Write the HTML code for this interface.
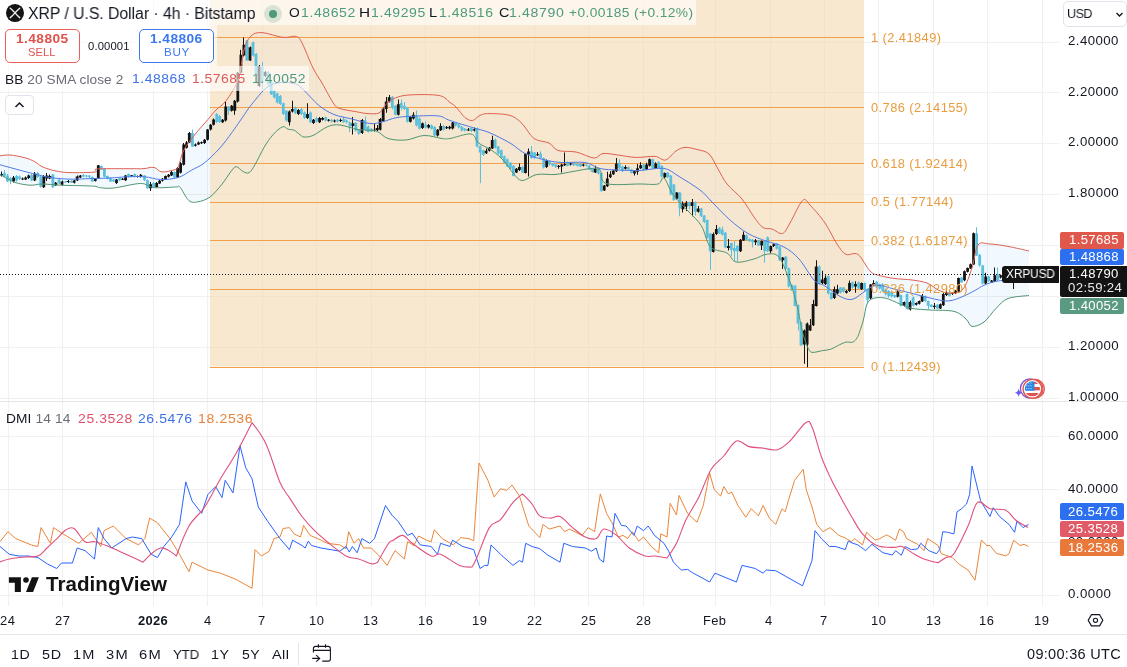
<!DOCTYPE html>
<html><head><meta charset="utf-8"><style>
html,body{margin:0;padding:0;background:#fff;}
body{width:1127px;height:667px;position:relative;overflow:hidden;font-family:"Liberation Sans",sans-serif;}
.t{position:absolute;white-space:nowrap;line-height:1.2;will-change:transform;}
</style></head><body>
<svg width="1127" height="667" viewBox="0 0 1127 667" style="position:absolute;left:0;top:0"><path d="M8.5,0 V401 M8.5,402 V606 M62.5,0 V401 M62.5,402 V606 M153.5,0 V401 M153.5,402 V606 M207.5,0 V401 M207.5,402 V606 M262.5,0 V401 M262.5,402 V606 M316.5,0 V401 M316.5,402 V606 M371.5,0 V401 M371.5,402 V606 M425.5,0 V401 M425.5,402 V606 M479.5,0 V401 M479.5,402 V606 M534.5,0 V401 M534.5,402 V606 M588.5,0 V401 M588.5,402 V606 M643.5,0 V401 M643.5,402 V606 M715.5,0 V401 M715.5,402 V606 M770.5,0 V401 M770.5,402 V606 M824.5,0 V401 M824.5,402 V606 M878.5,0 V401 M878.5,402 V606 M933.5,0 V401 M933.5,402 V606 M987.5,0 V401 M987.5,402 V606 M1042.5,0 V401 M1042.5,402 V606 M0,42.5 H1059 M0,92.5 H1059 M0,143.5 H1059 M0,194.5 H1059 M0,245.5 H1059 M0,296.5 H1059 M0,347.5 H1059 M0,398.5 H1059 M0,436.5 H1059 M0,489.5 H1059 M0,542.5 H1059 M0,595.5 H1059" stroke="#f0f0f0" stroke-width="1" fill="none"/><path d="M0.0,155.8 C1.7,155.7 5.8,154.7 10.0,155.0 C14.2,155.3 20.8,156.7 25.0,157.8 C29.2,158.9 32.2,160.3 35.0,161.8 C37.8,163.3 38.7,165.1 42.0,166.6 C45.3,168.1 50.3,169.8 55.0,170.8 C59.7,171.8 63.3,172.4 70.0,172.6 C76.7,172.8 90.5,172.6 95.0,172.0 C99.5,171.4 91.7,169.6 97.0,169.0 C102.3,168.4 119.3,168.8 127.0,168.7 C134.7,168.6 138.5,168.9 143.0,168.7 C147.5,168.5 150.8,166.8 154.0,167.4 C157.2,168.0 158.4,171.7 162.0,172.0 C165.6,172.3 172.9,170.3 175.6,169.4 C178.3,168.5 177.0,169.8 178.3,166.7 C179.7,163.5 181.0,155.8 183.7,150.5 C186.4,145.2 190.4,140.2 194.5,135.0 C198.6,129.8 204.4,123.6 208.0,119.4 C211.6,115.2 213.0,113.1 216.0,110.0 C219.0,106.9 222.3,105.8 226.0,100.8 C229.7,95.8 235.0,88.5 238.0,80.0 C241.0,71.5 241.8,57.3 244.0,50.0 C246.2,42.7 248.0,38.9 251.0,36.0 C254.0,33.1 256.7,32.4 262.0,32.6 C267.3,32.8 277.2,36.8 283.0,37.4 C288.8,38.0 293.2,35.4 296.5,36.5 C299.8,37.6 299.8,38.8 302.5,44.0 C305.2,49.2 309.8,61.5 313.0,68.0 C316.2,74.5 318.5,77.0 322.0,83.0 C325.5,89.0 331.0,99.8 334.0,104.0 C337.0,108.2 336.5,107.2 340.0,108.5 C343.5,109.8 350.5,110.7 355.0,111.5 C359.5,112.3 363.0,113.2 367.0,113.5 C371.0,113.8 376.0,114.3 379.0,113.0 C382.0,111.7 382.5,107.9 385.0,105.5 C387.5,103.1 390.0,100.2 394.0,98.5 C398.0,96.8 401.5,95.5 409.0,95.0 C416.5,94.5 432.2,94.2 439.0,95.5 C445.8,96.8 447.2,100.6 450.0,102.5 C452.8,104.4 453.5,104.5 456.0,107.0 C458.5,109.5 462.2,115.2 465.0,117.5 C467.8,119.8 470.0,120.8 472.5,120.5 C475.0,120.2 477.2,116.6 480.0,115.4 C482.8,114.2 484.0,113.6 489.0,113.6 C494.0,113.6 504.5,113.8 510.0,115.4 C515.5,117.1 518.0,119.7 522.0,123.5 C526.0,127.3 529.5,135.2 534.0,138.5 C538.5,141.8 545.0,141.0 549.0,143.0 C553.0,145.0 553.5,149.0 558.0,150.5 C562.5,152.0 570.0,150.8 576.0,152.0 C582.0,153.2 589.5,157.8 594.0,158.0 C598.5,158.2 599.0,154.0 603.0,153.5 C607.0,153.0 612.5,154.3 618.0,155.0 C623.5,155.7 629.8,157.2 636.0,157.4 C642.2,157.6 650.1,156.0 655.0,156.4 C659.9,156.8 662.0,160.9 665.5,160.0 C669.0,159.1 672.8,153.1 676.0,151.0 C679.2,148.9 681.5,147.7 685.0,147.4 C688.5,147.2 693.0,148.4 697.0,149.5 C701.0,150.6 705.5,150.8 709.0,154.0 C712.5,157.2 715.0,164.0 718.0,169.0 C721.0,174.0 723.0,179.0 727.0,184.0 C731.0,189.0 737.5,193.5 742.0,199.0 C746.5,204.5 750.5,212.2 754.0,217.0 C757.5,221.8 760.0,225.5 763.0,227.5 C766.0,229.5 768.8,228.0 772.0,229.0 C775.2,230.0 779.5,234.5 782.5,233.5 C785.5,232.5 786.7,228.5 790.0,223.0 C793.3,217.5 799.2,203.5 802.5,200.5 C805.8,197.5 806.2,201.2 810.0,205.0 C813.8,208.8 820.5,216.5 825.0,223.0 C829.5,229.5 833.5,238.8 837.0,244.0 C840.5,249.2 842.5,252.7 846.0,254.4 C849.5,256.1 854.0,251.6 858.0,254.4 C862.0,257.2 866.5,267.5 870.0,271.0 C873.5,274.5 875.0,274.2 879.0,275.4 C883.0,276.6 888.5,277.6 894.0,278.4 C899.5,279.2 906.5,279.2 912.0,280.0 C917.5,280.8 922.5,281.3 927.0,283.0 C931.5,284.7 935.0,288.7 939.0,290.4 C943.0,292.1 947.0,293.6 951.0,293.4 C955.0,293.2 959.5,293.2 963.0,289.0 C966.5,284.8 969.5,275.3 972.0,268.0 C974.5,260.7 975.0,249.0 978.0,245.0 C981.0,241.0 985.0,243.8 990.0,244.0 C995.0,244.2 1001.5,245.2 1008.0,246.4 C1014.5,247.6 1025.5,250.2 1029.0,251.0 L1029,295.5 1029.0,295.5 C1025.5,296.0 1013.5,296.4 1008.0,298.5 C1002.5,300.6 1000.0,304.5 996.0,308.4 C992.0,312.3 988.0,319.0 984.0,322.0 C980.0,325.0 975.0,326.9 972.0,326.4 C969.0,325.9 969.0,321.5 966.0,319.0 C963.0,316.5 960.0,312.9 954.0,311.4 C948.0,309.9 937.0,310.5 930.0,310.0 C923.0,309.5 917.0,309.4 912.0,308.4 C907.0,307.4 904.5,305.7 900.0,304.0 C895.5,302.3 889.5,298.9 885.0,298.0 C880.5,297.1 876.0,297.5 873.0,298.5 C870.0,299.5 868.6,300.4 867.0,304.0 C865.4,307.6 864.6,315.6 863.4,320.0 C862.2,324.4 861.0,327.7 860.0,330.6 C859.0,333.6 858.4,335.8 857.2,337.7 C856.0,339.6 854.7,341.4 852.8,342.2 C850.9,342.9 848.2,341.6 845.7,342.2 C843.2,342.8 840.2,344.5 837.7,345.7 C835.2,346.9 833.1,348.5 830.6,349.3 C828.1,350.1 825.7,350.1 822.6,350.6 C819.5,351.1 814.4,352.8 812.0,352.4 C809.6,352.0 809.2,350.1 808.0,348.0 C806.8,345.9 806.0,343.0 805.0,340.0 C804.0,337.0 803.5,336.5 802.0,330.0 C800.5,323.5 798.5,310.3 796.0,301.0 C793.5,291.7 790.0,281.5 787.0,274.0 C784.0,266.5 781.5,259.3 778.0,256.0 C774.5,252.7 770.0,253.9 766.0,254.4 C762.0,254.9 759.0,257.7 754.0,259.0 C749.0,260.3 740.5,263.0 736.0,262.0 C731.5,261.0 731.2,255.5 727.0,253.0 C722.8,250.5 714.8,251.5 710.5,247.0 C706.2,242.5 705.2,232.0 701.5,226.0 C697.8,220.0 692.8,216.2 688.0,211.0 C683.2,205.8 677.0,200.0 673.0,194.5 C669.0,189.0 666.5,179.8 664.0,178.0 C661.5,176.2 662.0,183.0 658.0,184.0 C654.0,185.0 648.7,184.1 640.0,184.0 C631.3,183.9 612.7,185.8 606.0,183.5 C599.3,181.2 602.5,172.5 600.0,170.0 C597.5,167.5 595.5,168.2 591.0,168.5 C586.5,168.8 579.0,170.5 573.0,171.5 C567.0,172.5 561.0,174.0 555.0,174.5 C549.0,175.0 542.5,173.5 537.0,174.5 C531.5,175.5 526.0,180.8 522.0,180.5 C518.0,180.2 516.0,176.2 513.0,173.0 C510.0,169.8 507.5,164.8 504.0,161.0 C500.5,157.2 496.2,153.5 492.0,150.5 C487.8,147.5 482.0,145.8 478.5,143.0 C475.0,140.2 475.8,134.8 471.0,134.0 C466.2,133.2 454.8,137.8 450.0,138.5 C445.2,139.2 446.3,139.0 442.0,138.5 C437.7,138.0 430.0,135.2 424.0,135.5 C418.0,135.8 412.0,139.5 406.0,140.0 C400.0,140.5 393.0,140.0 388.0,138.5 C383.0,137.0 381.0,132.5 376.0,131.0 C371.0,129.5 364.0,130.5 358.0,129.5 C352.0,128.5 345.0,125.5 340.0,125.0 C335.0,124.5 332.5,124.8 328.0,126.5 C323.5,128.2 317.0,133.8 313.0,135.5 C309.0,137.2 306.2,137.1 304.0,137.0 C301.8,136.9 301.7,135.8 300.0,134.7 C298.3,133.6 296.0,131.1 294.0,130.2 C292.0,129.3 289.9,129.8 288.0,129.2 C286.1,128.6 285.2,125.9 282.7,126.8 C280.2,127.7 276.1,131.2 273.0,134.7 C269.9,138.1 267.0,142.5 264.0,147.5 C261.0,152.5 257.5,160.5 255.0,164.7 C252.5,168.9 251.0,171.6 249.0,172.7 C247.0,173.8 245.1,172.5 243.0,171.5 C240.9,170.5 238.2,166.7 236.2,166.7 C234.2,166.7 233.4,168.6 231.0,171.5 C228.6,174.4 225.5,179.9 222.0,184.2 C218.5,188.4 214.0,194.1 210.0,197.0 C206.0,199.9 201.5,201.2 198.0,201.8 C194.5,202.4 192.0,203.1 189.0,200.7 C186.0,198.3 182.2,189.5 180.0,187.2 C177.8,184.9 179.9,186.9 175.6,187.0 C171.3,187.1 159.8,188.2 154.0,187.6 C148.2,187.0 147.2,183.4 140.5,183.5 C133.8,183.6 120.3,187.3 113.5,188.0 C106.7,188.7 102.4,187.9 99.5,187.6 C96.6,187.3 98.6,186.7 96.0,186.4 C93.4,186.1 90.0,186.0 84.0,185.8 C78.0,185.6 67.0,185.5 60.0,185.2 C53.0,184.9 47.0,184.0 42.0,184.0 C37.0,184.0 34.6,185.5 30.0,185.2 C25.4,184.9 19.4,184.0 14.4,182.2 C9.4,180.4 2.4,175.7 0.0,174.4 Z" fill="#2196f3" fill-opacity="0.06"/><rect x="210" y="0" width="654" height="366.6" fill="rgb(245,217,177)" fill-opacity="0.6"/><path d="M210,37.5 H864 M210,107.5 H864 M210,163.5 H864 M210,202.5 H864 M210,240.5 H864 M210,289.5 H864 M210,367.5 H864" stroke="#f2a04a" stroke-width="1" fill="none"/><path d="M3.00,173.0h2.8v3.5h-2.8z M4,170.1h1v6.9h-1z M6.10,175.5h2.8v5.9h-2.8z M7,174.0h1v8.0h-1z M9.10,178.0h2.8v2.4h-2.8z M10,177.0h1v7.3h-1z M15.20,176.0h2.8v4.4h-2.8z M16,175.0h1v6.5h-1z M18.20,176.5h2.8v2.5h-2.8z M19,175.5h1v4.5h-1z M30.30,175.0h2.8v5.4h-2.8z M31,174.0h1v7.0h-1z M36.40,173.0h2.8v4.0h-2.8z M37,172.0h1v6.0h-1z M39.40,176.5h2.8v10.2h-2.8z M40,175.5h1v12.0h-1z M51.50,174.5h2.8v12.7h-2.8z M52,174.0h1v14.0h-1z M57.60,179.4h2.8v3.9h-2.8z M59,179.0h1v5.0h-1z M63.60,181.4h2.8v1.0h-2.8z M65,181.0h1v2.0h-1z M69.60,180.9h2.8v1.5h-2.8z M71,180.0h1v3.0h-1z M81.80,175.0h2.8v1.5h-2.8z M83,174.0h1v3.5h-1z M84.80,175.5h2.8v1.0h-2.8z M86,175.0h1v2.5h-1z M87.80,175.5h2.8v1.5h-2.8z M89,175.0h1v3.0h-1z M90.80,177.0h2.8v4.4h-2.8z M92,176.5h1v5.5h-1z M99.90,166.0h2.8v3.4h-2.8z M101,165.5h1v4.5h-1z M103.00,168.7h2.8v8.1h-2.8z M104,168.0h1v9.5h-1z M106.00,176.0h2.8v2.8h-2.8z M107,175.5h1v4.0h-1z M109.10,178.0h2.8v3.5h-2.8z M110,177.5h1v4.5h-1z M112.10,179.5h2.8v2.0h-2.8z M113,179.0h1v3.0h-1z M118.20,178.0h2.8v2.2h-2.8z M119,177.5h1v3.5h-1z M127.20,174.0h2.8v2.8h-2.8z M128,173.5h1v4.0h-1z M133.40,174.0h2.8v2.8h-2.8z M134,173.5h1v4.0h-1z M143.10,175.5h2.8v4.7h-2.8z M144,175.0h1v6.0h-1z M146.10,180.2h2.8v8.1h-2.8z M147,179.5h1v9.5h-1z M152.20,182.9h2.8v4.0h-2.8z M153,182.0h1v5.5h-1z M173.10,172.0h2.8v5.5h-2.8z M174,171.5h1v6.5h-1z M191.00,133.0h2.8v13.4h-2.8z M192,129.6h1v17.4h-1z M215.30,114.0h2.8v8.0h-2.8z M216,113.0h1v10.0h-1z M218.30,116.0h2.8v6.0h-2.8z M219,115.0h1v8.0h-1z M227.40,106.6h2.8v4.1h-2.8z M228,106.0h1v9.0h-1z M245.50,40.7h2.8v19.7h-2.8z M246,40.0h1v21.0h-1z M251.60,42.3h2.8v13.2h-2.8z M253,41.5h1v15.0h-1z M254.60,53.8h2.8v20.6h-2.8z M256,53.0h1v22.0h-1z M260.70,66.2h2.8v16.5h-2.8z M262,62.0h1v28.0h-1z M266.70,72.0h2.8v12.3h-2.8z M268,71.0h1v14.0h-1z M269.80,81.9h2.8v12.3h-2.8z M271,81.0h1v14.0h-1z M272.80,91.0h2.8v6.5h-2.8z M274,90.0h1v8.5h-1z M275.80,93.4h2.8v9.1h-2.8z M277,92.5h1v11.0h-1z M278.80,95.9h2.8v8.2h-2.8z M280,95.0h1v10.0h-1z M281.90,103.3h2.8v10.7h-2.8z M283,102.5h1v12.5h-1z M284.90,110.7h2.8v9.9h-2.8z M286,110.0h1v11.5h-1z M294.00,107.4h2.8v5.8h-2.8z M295,106.5h1v7.5h-1z M300.00,109.0h2.8v5.0h-2.8z M301,108.0h1v7.0h-1z M303.10,112.4h2.8v5.6h-2.8z M304,111.5h1v7.5h-1z M309.10,112.4h2.8v9.8h-2.8z M310,111.5h1v11.5h-1z M315.20,118.0h2.8v3.4h-2.8z M316,117.0h1v5.5h-1z M324.30,117.3h2.8v3.3h-2.8z M325,116.5h1v5.0h-1z M330.30,119.8h2.8v1.6h-2.8z M331,119.0h1v3.5h-1z M336.40,119.8h2.8v1.7h-2.8z M337,119.0h1v3.5h-1z M342.40,119.0h2.8v3.3h-2.8z M343,116.4h1v6.6h-1z M345.40,120.5h2.8v1.8h-2.8z M346,119.5h1v4.0h-1z M348.50,122.3h2.8v4.2h-2.8z M349,121.5h1v10.4h-1z M354.50,122.8h2.8v8.0h-2.8z M355,122.0h1v9.5h-1z M357.50,129.7h2.8v4.3h-2.8z M358,129.0h1v6.0h-1z M363.60,120.1h2.8v9.6h-2.8z M365,116.4h1v14.1h-1z M366.60,126.5h2.8v5.4h-2.8z M368,125.5h1v7.0h-1z M369.70,128.7h2.8v2.7h-2.8z M371,128.0h1v4.0h-1z M390.90,96.7h2.8v10.7h-2.8z M392,96.0h1v13.5h-1z M393.90,105.8h2.8v9.0h-2.8z M395,105.0h1v10.5h-1z M399.90,103.1h2.8v4.8h-2.8z M401,99.4h1v11.2h-1z M403.00,105.8h2.8v3.2h-2.8z M404,102.0h1v8.0h-1z M406.00,107.9h2.8v13.8h-2.8z M407,107.0h1v15.5h-1z M415.10,115.4h2.8v10.1h-2.8z M416,110.6h1v15.9h-1z M418.10,118.5h2.8v10.2h-2.8z M419,117.5h1v12.0h-1z M424.20,124.4h2.8v3.2h-2.8z M425,121.2h1v7.3h-1z M430.20,125.5h2.8v3.2h-2.8z M431,124.5h1v5.0h-1z M433.20,127.1h2.8v8.5h-2.8z M434,126.0h1v10.5h-1z M442.30,126.0h2.8v3.7h-2.8z M443,125.0h1v5.5h-1z M454.40,122.6h2.8v3.0h-2.8z M455,122.0h1v4.5h-1z M457.50,124.4h2.8v3.0h-2.8z M458,123.5h1v5.0h-1z M460.50,126.8h2.8v3.6h-2.8z M461,126.0h1v5.5h-1z M463.50,128.6h2.8v1.8h-2.8z M464,128.0h1v3.5h-1z M469.60,128.0h2.8v3.0h-2.8z M471,127.5h1v4.5h-1z M475.60,128.0h2.8v18.6h-2.8z M477,127.4h1v20.1h-1z M478.70,146.0h2.8v6.6h-2.8z M480,145.5h1v37.7h-1z M481.70,150.2h2.8v4.8h-2.8z M483,149.5h1v6.5h-1z M493.80,139.4h2.8v8.4h-2.8z M495,138.5h1v10.0h-1z M496.80,146.6h2.8v7.2h-2.8z M498,146.0h1v8.5h-1z M499.90,150.2h2.8v7.8h-2.8z M501,149.5h1v9.5h-1z M502.90,156.2h2.8v6.6h-2.8z M504,155.5h1v8.0h-1z M505.90,159.2h2.8v7.2h-2.8z M507,158.5h1v8.5h-1z M509.00,162.8h2.8v6.0h-2.8z M510,162.0h1v7.5h-1z M512.00,165.8h2.8v10.2h-2.8z M513,165.0h1v11.5h-1z M521.10,167.0h2.8v5.4h-2.8z M522,166.0h1v7.0h-1z M530.20,151.4h2.8v6.6h-2.8z M531,146.0h1v13.0h-1z M533.20,152.5h2.8v5.5h-2.8z M534,152.0h1v7.0h-1z M539.20,153.4h2.8v4.6h-2.8z M540,151.2h1v7.3h-1z M542.30,158.0h2.8v9.6h-2.8z M543,157.5h1v11.0h-1z M548.30,161.0h2.8v3.6h-2.8z M549,160.5h1v5.0h-1z M551.40,163.4h2.8v2.4h-2.8z M552,163.0h1v3.5h-1z M554.40,164.6h2.8v2.4h-2.8z M555,164.0h1v4.0h-1z M566.50,162.2h2.8v3.6h-2.8z M567,161.5h1v5.0h-1z M572.50,162.8h2.8v2.4h-2.8z M573,162.0h1v4.0h-1z M575.60,164.0h2.8v1.8h-2.8z M577,163.5h1v3.0h-1z M578.60,163.4h2.8v3.0h-2.8z M580,163.0h1v4.0h-1z M584.70,164.6h2.8v1.2h-2.8z M586,164.0h1v2.5h-1z M587.70,165.8h2.8v3.6h-2.8z M589,165.0h1v5.0h-1z M590.70,168.8h2.8v3.0h-2.8z M592,168.0h1v4.5h-1z M596.80,168.8h2.8v4.8h-2.8z M598,168.0h1v6.5h-1z M599.80,173.0h2.8v18.0h-2.8z M601,172.5h1v19.5h-1z M618.00,162.8h2.8v5.4h-2.8z M619,159.2h1v9.8h-1z M621.00,166.4h2.8v4.8h-2.8z M622,165.8h1v6.2h-1z M627.00,167.0h2.8v2.4h-2.8z M628,166.5h1v3.5h-1z M630.10,169.4h2.8v3.6h-2.8z M631,169.0h1v4.5h-1z M642.20,164.6h2.8v5.4h-2.8z M643,164.0h1v7.0h-1z M651.30,159.2h2.8v9.0h-2.8z M652,158.5h1v10.5h-1z M657.30,162.2h2.8v6.0h-2.8z M658,161.0h1v8.0h-1z M660.40,165.8h2.8v10.8h-2.8z M661,165.0h1v12.5h-1z M666.40,172.4h2.8v4.8h-2.8z M667,172.0h1v6.0h-1z M669.40,175.4h2.8v19.2h-2.8z M670,175.0h1v20.5h-1z M672.50,184.4h2.8v15.6h-2.8z M673,184.0h1v17.0h-1z M678.50,192.6h2.8v16.0h-2.8z M679,192.0h1v24.2h-1z M687.60,202.2h2.8v3.8h-2.8z M689,201.5h1v7.7h-1z M693.70,202.2h2.8v9.6h-2.8z M695,201.5h1v14.1h-1z M699.70,208.6h2.8v7.6h-2.8z M701,208.0h1v9.0h-1z M702.70,215.6h2.8v6.4h-2.8z M704,215.0h1v8.0h-1z M705.80,220.0h2.8v17.9h-2.8z M707,219.5h1v19.0h-1z M708.80,233.4h2.8v17.8h-2.8z M710,233.0h1v37.0h-1z M717.90,227.7h2.8v5.7h-2.8z M719,227.0h1v7.0h-1z M720.90,229.6h2.8v5.1h-2.8z M722,226.4h1v9.1h-1z M723.90,232.8h2.8v14.6h-2.8z M725,232.0h1v16.0h-1z M730.00,243.0h2.8v7.0h-2.8z M731,242.5h1v13.8h-1z M733.00,248.0h2.8v3.2h-2.8z M734,241.0h1v20.4h-1z M736.00,245.9h2.8v5.3h-2.8z M737,245.0h1v16.4h-1z M745.10,235.3h2.8v4.5h-2.8z M746,234.5h1v6.0h-1z M748.20,239.1h2.8v1.9h-2.8z M749,238.5h1v3.5h-1z M751.20,239.8h2.8v2.5h-2.8z M752,239.0h1v8.4h-1z M757.20,240.4h2.8v5.1h-2.8z M758,240.0h1v6.0h-1z M763.30,241.0h2.8v10.2h-2.8z M764,240.5h1v22.2h-1z M766.30,237.2h2.8v14.0h-2.8z M767,236.5h1v15.5h-1z M775.40,243.6h2.8v5.1h-2.8z M776,243.0h1v6.5h-1z M778.40,246.8h2.8v13.4h-2.8z M779,246.0h1v15.0h-1z M784.50,256.8h2.8v12.2h-2.8z M785,256.0h1v14.0h-1z M787.50,268.2h2.8v18.4h-2.8z M788,267.5h1v20.0h-1z M790.50,284.8h2.8v5.2h-2.8z M791,284.0h1v7.0h-1z M793.60,285.7h2.8v20.2h-2.8z M795,285.0h1v21.5h-1z M796.60,305.0h2.8v18.4h-2.8z M798,304.5h1v25.9h-1z M799.60,322.5h2.8v22.9h-2.8z M801,322.0h1v24.0h-1z M817.80,266.4h2.8v17.6h-2.8z M819,265.5h1v19.5h-1z M826.90,276.0h2.8v17.6h-2.8z M828,275.5h1v19.0h-1z M829.90,292.7h2.8v6.2h-2.8z M831,292.0h1v7.5h-1z M839.00,287.5h2.8v5.2h-2.8z M840,287.0h1v6.5h-1z M842.00,287.5h2.8v4.3h-2.8z M843,287.0h1v5.5h-1z M851.10,282.2h2.8v5.3h-2.8z M852,281.5h1v7.0h-1z M857.20,282.2h2.8v6.2h-2.8z M858,281.5h1v7.5h-1z M863.20,283.1h2.8v6.9h-2.8z M864,282.5h1v8.5h-1z M866.20,289.2h2.8v10.5h-2.8z M867,288.5h1v14.1h-1z M875.30,281.8h2.8v5.4h-2.8z M876,281.0h1v7.0h-1z M878.40,284.0h2.8v4.8h-2.8z M879,283.5h1v6.0h-1z M881.40,284.5h2.8v6.9h-2.8z M882,282.9h1v9.1h-1z M884.40,289.3h2.8v5.3h-2.8z M885,288.5h1v7.0h-1z M887.40,290.9h2.8v5.3h-2.8z M888,290.0h1v7.8h-1z M890.50,292.0h2.8v4.2h-2.8z M891,291.5h1v6.3h-1z M893.50,295.1h2.8v2.2h-2.8z M894,294.5h1v3.5h-1z M899.50,295.1h2.8v10.7h-2.8z M900,294.5h1v12.0h-1z M905.60,294.0h2.8v15.0h-2.8z M907,293.5h1v16.0h-1z M911.70,297.3h2.8v8.5h-2.8z M913,296.5h1v10.0h-1z M923.80,296.2h2.8v4.8h-2.8z M925,295.5h1v6.5h-1z M926.80,301.0h2.8v4.8h-2.8z M928,300.5h1v8.5h-1z M929.80,304.7h2.8v2.2h-2.8z M931,304.0h1v3.5h-1z M935.90,304.7h2.8v3.8h-2.8z M937,304.0h1v5.0h-1z M948.00,292.5h2.8v3.2h-2.8z M949,292.0h1v4.5h-1z M960.10,277.6h2.8v4.8h-2.8z M961,277.0h1v6.0h-1z M975.20,233.2h2.8v22.2h-2.8z M976,227.2h1v28.8h-1z M978.30,254.8h2.8v10.8h-2.8z M979,254.0h1v12.5h-1z M981.30,265.6h2.8v18.0h-2.8z M982,265.0h1v19.5h-1z M987.40,276.4h2.8v4.6h-2.8z M988,275.5h1v6.5h-1z M996.40,274.6h2.8v5.4h-2.8z M997,267.4h1v13.6h-1z M1005.50,275.0h2.8v2.0h-2.8z M1006,274.0h1v4.0h-1z" fill="#5bc0de"/><path d="M0.10,174.0h2.8v1.5h-2.8z M1,171.6h1v4.9h-1z M12.20,177.5h2.8v3.9h-2.8z M13,176.0h1v6.5h-1z M21.30,178.4h2.8v1.0h-2.8z M22,177.5h1v2.5h-1z M24.30,177.4h2.8v2.0h-2.8z M25,176.5h1v3.5h-1z M27.30,175.5h2.8v2.5h-2.8z M28,174.5h1v4.5h-1z M33.40,173.5h2.8v6.9h-2.8z M34,172.0h1v9.0h-1z M42.40,176.0h2.8v11.2h-2.8z M43,175.0h1v13.0h-1z M45.50,175.5h2.8v2.9h-2.8z M46,173.0h1v8.0h-1z M48.50,176.0h2.8v2.4h-2.8z M49,174.5h1v4.5h-1z M54.50,182.8h2.8v2.5h-2.8z M55,182.0h1v4.0h-1z M60.60,181.4h2.8v3.4h-2.8z M62,180.5h1v5.0h-1z M66.60,180.9h2.8v1.0h-2.8z M68,180.0h1v3.0h-1z M72.70,180.4h2.8v2.4h-2.8z M74,180.0h1v3.5h-1z M75.70,176.5h2.8v3.9h-2.8z M77,175.5h1v5.5h-1z M78.70,175.5h2.8v2.0h-2.8z M80,175.0h1v3.0h-1z M93.90,178.4h2.8v2.5h-2.8z M95,178.0h1v3.5h-1z M96.90,165.2h2.8v13.2h-2.8z M98,165.0h1v14.0h-1z M115.10,179.5h2.8v3.4h-2.8z M116,179.0h1v5.0h-1z M121.30,178.7h2.8v1.0h-2.8z M122,178.0h1v2.0h-1z M124.20,175.5h2.8v4.7h-2.8z M125,175.0h1v6.0h-1z M130.30,175.3h2.8v1.0h-2.8z M131,175.0h1v2.0h-1z M136.40,175.9h2.8v1.0h-2.8z M137,175.5h1v2.0h-1z M139.50,174.8h2.8v2.0h-2.8z M140,174.0h1v3.5h-1z M149.20,184.2h2.8v4.1h-2.8z M150,182.0h1v9.0h-1z M155.30,182.9h2.8v4.0h-2.8z M156,182.0h1v5.5h-1z M158.20,180.8h2.8v2.7h-2.8z M159,180.0h1v4.0h-1z M160.90,178.8h2.8v2.0h-2.8z M162,178.0h1v3.5h-1z M164.10,176.1h2.8v3.4h-2.8z M165,175.5h1v4.5h-1z M167.20,174.8h2.8v2.0h-2.8z M168,174.0h1v3.5h-1z M170.10,172.0h2.8v3.5h-2.8z M171,171.0h1v5.0h-1z M176.20,168.0h2.8v9.5h-2.8z M177,167.0h1v11.0h-1z M179.20,163.3h2.8v9.5h-2.8z M180,162.0h1v11.5h-1z M182.30,144.4h2.8v20.3h-2.8z M183,143.0h1v22.5h-1z M185.20,142.4h2.8v5.4h-2.8z M186,141.0h1v7.5h-1z M187.90,133.0h2.8v9.4h-2.8z M189,132.0h1v11.0h-1z M194.00,144.4h2.8v1.4h-2.8z M195,143.5h1v3.0h-1z M197.10,142.4h2.8v2.0h-2.8z M198,141.5h1v3.5h-1z M200.10,142.2h2.8v1.0h-2.8z M201,141.5h1v2.5h-1z M203.20,139.7h2.8v3.4h-2.8z M204,139.0h1v5.0h-1z M206.20,129.6h2.8v10.1h-2.8z M207,129.0h1v11.5h-1z M209.30,124.8h2.8v4.8h-2.8z M210,124.0h1v6.5h-1z M212.20,119.4h2.8v5.4h-2.8z M213,118.5h1v7.0h-1z M221.30,119.8h2.8v2.4h-2.8z M222,119.0h1v4.0h-1z M224.30,106.6h2.8v14.0h-2.8z M225,101.6h1v19.9h-1z M230.40,105.8h2.8v4.9h-2.8z M231,105.0h1v6.5h-1z M233.40,100.8h2.8v9.9h-2.8z M234,100.0h1v14.8h-1z M236.40,72.8h2.8v28.8h-2.8z M237,72.0h1v30.5h-1z M239.50,54.7h2.8v18.1h-2.8z M240,49.7h1v23.8h-1z M242.50,44.8h2.8v10.7h-2.8z M243,37.4h1v19.1h-1z M248.60,47.3h2.8v13.1h-2.8z M250,46.5h1v14.5h-1z M257.60,66.2h2.8v19.8h-2.8z M259,65.0h1v22.0h-1z M263.70,72.0h2.8v4.0h-2.8z M265,71.0h1v6.0h-1z M287.90,111.5h2.8v10.7h-2.8z M289,110.5h1v15.0h-1z M290.90,109.0h2.8v2.5h-2.8z M292,100.8h1v11.7h-1z M297.00,109.9h2.8v4.1h-2.8z M298,109.0h1v6.0h-1z M306.10,114.0h2.8v4.0h-2.8z M307,103.3h1v15.7h-1z M312.10,119.8h2.8v3.2h-2.8z M313,119.0h1v5.0h-1z M318.20,118.0h2.8v4.2h-2.8z M319,117.0h1v6.0h-1z M321.20,118.0h2.8v1.8h-2.8z M322,117.0h1v3.5h-1z M327.30,119.7h2.8v1.0h-2.8z M328,119.0h1v2.5h-1z M333.30,120.5h2.8v1.0h-2.8z M334,119.5h1v3.0h-1z M339.40,119.9h2.8v1.0h-2.8z M340,118.5h1v3.5h-1z M351.50,123.3h2.8v2.7h-2.8z M352,117.0h1v17.5h-1z M360.60,120.1h2.8v12.8h-2.8z M362,119.0h1v15.0h-1z M372.70,129.7h2.8v1.1h-2.8z M374,123.3h1v8.2h-1z M375.70,128.1h2.8v2.2h-2.8z M377,124.9h1v6.1h-1z M378.70,119.0h2.8v10.7h-2.8z M380,118.0h1v12.5h-1z M381.80,108.4h2.8v12.8h-2.8z M383,107.5h1v14.5h-1z M384.80,101.5h2.8v7.5h-2.8z M386,97.0h1v15.7h-1z M387.80,97.2h2.8v4.3h-2.8z M389,95.1h1v7.4h-1z M396.90,104.2h2.8v10.6h-2.8z M398,99.4h1v16.1h-1z M409.00,117.0h2.8v4.7h-2.8z M410,116.0h1v6.5h-1z M412.00,114.8h2.8v3.7h-2.8z M413,112.2h1v7.3h-1z M421.10,123.3h2.8v4.8h-2.8z M422,122.5h1v6.5h-1z M427.20,125.0h2.8v2.6h-2.8z M428,124.0h1v4.5h-1z M436.30,129.7h2.8v5.9h-2.8z M437,129.0h1v7.5h-1z M439.30,126.0h2.8v4.3h-2.8z M440,123.3h1v7.7h-1z M445.40,127.0h2.8v1.2h-2.8z M446,126.0h1v3.0h-1z M448.40,126.8h2.8v1.8h-2.8z M449,125.8h1v3.7h-1z M451.40,122.6h2.8v6.0h-2.8z M452,122.0h1v7.5h-1z M466.60,129.6h2.8v1.0h-2.8z M468,128.0h1v3.0h-1z M472.60,129.2h2.8v1.2h-2.8z M474,127.4h1v4.2h-1z M484.70,150.8h2.8v2.4h-2.8z M486,148.4h1v5.6h-1z M487.80,147.8h2.8v3.0h-2.8z M489,147.0h1v4.5h-1z M490.80,140.0h2.8v8.4h-2.8z M492,135.8h1v13.2h-1z M515.00,168.8h2.8v3.6h-2.8z M516,168.0h1v5.0h-1z M518.00,167.0h2.8v3.0h-2.8z M519,163.4h1v7.6h-1z M524.10,153.8h2.8v19.2h-2.8z M525,153.0h1v20.5h-1z M527.10,151.4h2.8v3.0h-2.8z M528,148.4h1v28.2h-1z M536.20,154.2h2.8v1.0h-2.8z M537,151.9h1v4.1h-1z M545.30,160.4h2.8v6.6h-2.8z M546,159.5h1v8.5h-1z M557.40,165.8h2.8v1.2h-2.8z M558,165.0h1v3.8h-1z M560.40,164.6h2.8v1.8h-2.8z M561,163.8h1v8.6h-1z M563.50,164.0h2.8v1.2h-2.8z M564,152.6h1v13.4h-1z M569.50,163.4h2.8v1.2h-2.8z M570,162.5h1v3.0h-1z M581.60,164.6h2.8v1.2h-2.8z M583,163.8h1v2.7h-1z M593.70,168.8h2.8v3.6h-2.8z M595,165.8h1v7.2h-1z M602.80,185.6h2.8v4.8h-2.8z M604,185.0h1v6.0h-1z M605.90,178.4h2.8v7.8h-2.8z M607,171.8h1v15.2h-1z M608.90,174.2h2.8v3.0h-2.8z M610,171.2h1v6.8h-1z M611.90,170.6h2.8v3.6h-2.8z M613,170.0h1v5.0h-1z M614.90,163.4h2.8v7.8h-2.8z M616,158.0h1v14.0h-1z M624.00,167.0h2.8v1.8h-2.8z M625,165.2h1v4.3h-1z M633.10,171.2h2.8v2.4h-2.8z M634,170.5h1v4.9h-1z M636.10,168.2h2.8v3.6h-2.8z M637,164.0h1v10.8h-1z M639.20,165.2h2.8v3.0h-2.8z M640,162.2h1v6.8h-1z M645.20,164.6h2.8v4.8h-2.8z M646,162.8h1v7.2h-1z M648.20,159.2h2.8v6.6h-2.8z M649,158.5h1v8.0h-1z M654.30,163.4h2.8v4.8h-2.8z M655,162.2h1v6.8h-1z M663.40,173.0h2.8v4.2h-2.8z M664,172.5h1v5.5h-1z M675.50,192.6h2.8v6.2h-2.8z M676,192.0h1v7.5h-1z M681.50,203.5h2.8v5.7h-2.8z M682,201.6h1v10.8h-1z M684.60,202.8h2.8v3.9h-2.8z M686,200.9h1v10.2h-1z M690.60,202.2h2.8v3.8h-2.8z M692,199.0h1v17.2h-1z M696.70,208.6h2.8v3.2h-2.8z M698,206.0h1v6.5h-1z M711.80,234.0h2.8v17.9h-2.8z M713,232.4h1v20.1h-1z M714.90,229.0h2.8v5.0h-2.8z M716,225.1h1v9.9h-1z M727.00,246.1h2.8v1.9h-2.8z M728,239.1h1v11.5h-1z M739.10,239.8h2.8v11.4h-2.8z M740,239.0h1v13.0h-1z M742.10,234.7h2.8v5.7h-2.8z M743,231.5h1v9.5h-1z M754.20,240.4h2.8v1.9h-2.8z M755,239.1h1v5.8h-1z M760.30,241.0h2.8v4.5h-2.8z M761,240.5h1v9.5h-1z M769.40,246.1h2.8v5.1h-2.8z M770,245.5h1v7.7h-1z M772.40,244.2h2.8v1.9h-2.8z M773,243.5h1v3.5h-1z M781.50,257.6h2.8v2.6h-2.8z M782,257.0h1v12.0h-1z M802.70,330.4h2.8v14.1h-2.8z M804,329.5h1v34.3h-1z M805.70,323.4h2.8v21.1h-2.8z M807,322.5h1v44.8h-1z M808.70,325.2h2.8v5.2h-2.8z M810,318.9h1v12.1h-1z M811.70,304.1h2.8v21.1h-2.8z M813,299.7h1v26.3h-1z M814.80,266.4h2.8v39.5h-2.8z M816,260.3h1v46.2h-1z M820.80,279.6h2.8v3.5h-2.8z M822,270.8h1v13.2h-1z M823.90,277.8h2.8v6.2h-2.8z M825,275.2h1v9.8h-1z M832.90,289.2h2.8v8.8h-2.8z M834,286.6h1v12.4h-1z M836.00,289.2h2.8v4.4h-2.8z M837,284.8h1v9.7h-1z M845.00,291.0h2.8v1.7h-2.8z M846,290.0h1v3.5h-1z M848.10,283.1h2.8v7.9h-2.8z M849,280.4h1v11.6h-1z M854.10,284.0h2.8v2.6h-2.8z M855,281.3h1v11.4h-1z M860.20,283.1h2.8v6.1h-2.8z M861,282.5h1v7.5h-1z M869.30,284.5h2.8v13.8h-2.8z M870,284.0h1v15.0h-1z M872.30,282.9h2.8v2.1h-2.8z M873,280.2h1v5.8h-1z M896.50,291.4h2.8v5.3h-2.8z M897,290.4h1v7.1h-1z M902.60,302.0h2.8v3.8h-2.8z M904,301.5h1v5.0h-1z M908.60,302.0h2.8v7.5h-2.8z M910,300.5h1v10.1h-1z M914.70,303.1h2.8v1.6h-2.8z M916,302.5h1v3.0h-1z M917.70,301.0h2.8v2.7h-2.8z M919,300.5h1v4.0h-1z M920.70,295.7h2.8v5.8h-2.8z M922,294.1h1v7.9h-1z M932.90,305.8h2.8v1.1h-2.8z M934,303.1h1v5.9h-1z M938.90,304.2h2.8v4.3h-2.8z M940,303.5h1v5.5h-1z M941.90,294.0h2.8v11.3h-2.8z M943,292.0h1v14.0h-1z M945.00,292.5h2.8v2.6h-2.8z M946,289.3h1v6.7h-1z M951.00,292.5h2.8v1.6h-2.8z M952,292.0h1v3.0h-1z M954.10,290.4h2.8v2.6h-2.8z M955,290.0h1v4.0h-1z M957.10,278.1h2.8v13.9h-2.8z M958,277.5h1v15.0h-1z M963.10,271.2h2.8v9.0h-2.8z M964,270.5h1v10.8h-1z M966.20,268.0h2.8v3.7h-2.8z M967,267.5h1v5.0h-1z M969.20,264.3h2.8v4.2h-2.8z M970,263.5h1v5.5h-1z M972.20,233.2h2.8v31.2h-2.8z M973,232.5h1v32.5h-1z M984.30,276.4h2.8v7.2h-2.8z M985,272.8h1v11.7h-1z M990.40,280.6h2.8v1.8h-2.8z M991,280.0h1v3.0h-1z M993.40,275.2h2.8v6.0h-2.8z M994,267.4h1v14.6h-1z M999.50,275.2h2.8v2.4h-2.8z M1000,274.5h1v4.0h-1z M1002.50,274.6h2.8v2.4h-2.8z M1003,274.0h1v4.0h-1z M1008.50,276.0h2.8v2.0h-2.8z M1009,275.0h1v4.0h-1z M1012.10,279.0h2.8v3.0h-2.8z M1013,275.0h1v14.0h-1z" fill="#131313"/><path d="M0.0,155.8 C1.7,155.7 5.8,154.7 10.0,155.0 C14.2,155.3 20.8,156.7 25.0,157.8 C29.2,158.9 32.2,160.3 35.0,161.8 C37.8,163.3 38.7,165.1 42.0,166.6 C45.3,168.1 50.3,169.8 55.0,170.8 C59.7,171.8 63.3,172.4 70.0,172.6 C76.7,172.8 90.5,172.6 95.0,172.0 C99.5,171.4 91.7,169.6 97.0,169.0 C102.3,168.4 119.3,168.8 127.0,168.7 C134.7,168.6 138.5,168.9 143.0,168.7 C147.5,168.5 150.8,166.8 154.0,167.4 C157.2,168.0 158.4,171.7 162.0,172.0 C165.6,172.3 172.9,170.3 175.6,169.4 C178.3,168.5 177.0,169.8 178.3,166.7 C179.7,163.5 181.0,155.8 183.7,150.5 C186.4,145.2 190.4,140.2 194.5,135.0 C198.6,129.8 204.4,123.6 208.0,119.4 C211.6,115.2 213.0,113.1 216.0,110.0 C219.0,106.9 222.3,105.8 226.0,100.8 C229.7,95.8 235.0,88.5 238.0,80.0 C241.0,71.5 241.8,57.3 244.0,50.0 C246.2,42.7 248.0,38.9 251.0,36.0 C254.0,33.1 256.7,32.4 262.0,32.6 C267.3,32.8 277.2,36.8 283.0,37.4 C288.8,38.0 293.2,35.4 296.5,36.5 C299.8,37.6 299.8,38.8 302.5,44.0 C305.2,49.2 309.8,61.5 313.0,68.0 C316.2,74.5 318.5,77.0 322.0,83.0 C325.5,89.0 331.0,99.8 334.0,104.0 C337.0,108.2 336.5,107.2 340.0,108.5 C343.5,109.8 350.5,110.7 355.0,111.5 C359.5,112.3 363.0,113.2 367.0,113.5 C371.0,113.8 376.0,114.3 379.0,113.0 C382.0,111.7 382.5,107.9 385.0,105.5 C387.5,103.1 390.0,100.2 394.0,98.5 C398.0,96.8 401.5,95.5 409.0,95.0 C416.5,94.5 432.2,94.2 439.0,95.5 C445.8,96.8 447.2,100.6 450.0,102.5 C452.8,104.4 453.5,104.5 456.0,107.0 C458.5,109.5 462.2,115.2 465.0,117.5 C467.8,119.8 470.0,120.8 472.5,120.5 C475.0,120.2 477.2,116.6 480.0,115.4 C482.8,114.2 484.0,113.6 489.0,113.6 C494.0,113.6 504.5,113.8 510.0,115.4 C515.5,117.1 518.0,119.7 522.0,123.5 C526.0,127.3 529.5,135.2 534.0,138.5 C538.5,141.8 545.0,141.0 549.0,143.0 C553.0,145.0 553.5,149.0 558.0,150.5 C562.5,152.0 570.0,150.8 576.0,152.0 C582.0,153.2 589.5,157.8 594.0,158.0 C598.5,158.2 599.0,154.0 603.0,153.5 C607.0,153.0 612.5,154.3 618.0,155.0 C623.5,155.7 629.8,157.2 636.0,157.4 C642.2,157.6 650.1,156.0 655.0,156.4 C659.9,156.8 662.0,160.9 665.5,160.0 C669.0,159.1 672.8,153.1 676.0,151.0 C679.2,148.9 681.5,147.7 685.0,147.4 C688.5,147.2 693.0,148.4 697.0,149.5 C701.0,150.6 705.5,150.8 709.0,154.0 C712.5,157.2 715.0,164.0 718.0,169.0 C721.0,174.0 723.0,179.0 727.0,184.0 C731.0,189.0 737.5,193.5 742.0,199.0 C746.5,204.5 750.5,212.2 754.0,217.0 C757.5,221.8 760.0,225.5 763.0,227.5 C766.0,229.5 768.8,228.0 772.0,229.0 C775.2,230.0 779.5,234.5 782.5,233.5 C785.5,232.5 786.7,228.5 790.0,223.0 C793.3,217.5 799.2,203.5 802.5,200.5 C805.8,197.5 806.2,201.2 810.0,205.0 C813.8,208.8 820.5,216.5 825.0,223.0 C829.5,229.5 833.5,238.8 837.0,244.0 C840.5,249.2 842.5,252.7 846.0,254.4 C849.5,256.1 854.0,251.6 858.0,254.4 C862.0,257.2 866.5,267.5 870.0,271.0 C873.5,274.5 875.0,274.2 879.0,275.4 C883.0,276.6 888.5,277.6 894.0,278.4 C899.5,279.2 906.5,279.2 912.0,280.0 C917.5,280.8 922.5,281.3 927.0,283.0 C931.5,284.7 935.0,288.7 939.0,290.4 C943.0,292.1 947.0,293.6 951.0,293.4 C955.0,293.2 959.5,293.2 963.0,289.0 C966.5,284.8 969.5,275.3 972.0,268.0 C974.5,260.7 975.0,249.0 978.0,245.0 C981.0,241.0 985.0,243.8 990.0,244.0 C995.0,244.2 1001.5,245.2 1008.0,246.4 C1014.5,247.6 1025.5,250.2 1029.0,251.0" stroke="#e06050" stroke-width="1" fill="none"/><path d="M0.0,164.8 C6.0,166.4 27.0,172.2 36.0,174.4 C45.0,176.6 48.0,177.2 54.0,178.0 C60.0,178.8 66.0,179.1 72.0,179.2 C78.0,179.3 83.7,178.8 90.0,178.6 C96.3,178.4 103.8,178.3 110.0,178.0 C116.2,177.7 121.2,177.0 127.0,176.8 C132.8,176.6 138.9,176.4 144.5,176.8 C150.1,177.2 155.1,179.4 160.7,179.5 C166.3,179.6 173.1,179.1 178.3,177.5 C183.5,175.9 187.5,172.4 191.8,170.0 C196.1,167.6 199.5,166.7 204.0,163.2 C208.5,159.7 214.2,154.2 219.0,149.0 C223.8,143.8 227.8,138.2 232.5,131.7 C237.2,125.2 244.6,114.2 247.5,110.0 C250.4,105.8 247.1,110.0 250.0,106.5 C252.9,103.0 260.5,92.9 265.0,89.0 C269.5,85.1 272.5,84.0 277.0,83.0 C281.5,82.0 288.0,82.2 292.0,83.0 C296.0,83.8 296.5,83.8 301.0,87.5 C305.5,91.2 313.5,101.0 319.0,105.5 C324.5,110.0 328.5,112.2 334.0,114.5 C339.5,116.8 346.0,117.5 352.0,119.0 C358.0,120.5 365.0,123.0 370.0,123.5 C375.0,124.0 377.5,123.0 382.0,122.0 C386.5,121.0 391.0,118.5 397.0,117.5 C403.0,116.5 411.0,116.2 418.0,116.0 C425.0,115.8 433.7,115.2 439.0,116.0 C444.3,116.8 444.2,118.5 450.0,120.5 C455.8,122.5 467.5,126.0 474.0,128.0 C480.5,130.0 483.0,130.0 489.0,132.5 C495.0,135.0 504.0,139.5 510.0,143.0 C516.0,146.5 519.5,150.8 525.0,153.5 C530.5,156.2 537.0,158.0 543.0,159.5 C549.0,161.0 554.0,162.0 561.0,162.5 C568.0,163.0 578.5,161.5 585.0,162.5 C591.5,163.5 594.5,167.2 600.0,168.5 C605.5,169.8 611.3,169.7 618.0,170.0 C624.7,170.3 632.3,170.8 640.0,170.5 C647.7,170.2 657.5,167.4 664.0,168.4 C670.5,169.4 673.0,172.9 679.0,176.5 C685.0,180.1 694.5,185.8 700.0,190.0 C705.5,194.2 707.0,197.0 712.0,202.0 C717.0,207.0 724.0,214.8 730.0,220.0 C736.0,225.2 742.0,230.0 748.0,233.5 C754.0,237.0 760.0,238.8 766.0,241.0 C772.0,243.2 778.5,244.0 784.0,247.0 C789.5,250.0 794.0,253.5 799.0,259.0 C804.0,264.5 809.7,275.5 814.0,280.0 C818.3,284.5 820.7,283.3 825.0,286.0 C829.3,288.7 835.5,294.2 840.0,296.4 C844.5,298.6 848.0,300.1 852.0,299.4 C856.0,298.7 860.0,294.4 864.0,292.0 C868.0,289.6 871.0,285.8 876.0,285.3 C881.0,284.8 888.0,287.6 894.0,289.0 C900.0,290.4 906.0,291.9 912.0,293.4 C918.0,294.9 924.0,296.7 930.0,298.0 C936.0,299.3 942.5,301.3 948.0,301.0 C953.5,300.7 958.5,298.2 963.0,296.4 C967.5,294.6 971.5,292.2 975.0,290.4 C978.5,288.5 980.5,286.8 984.0,285.3 C987.5,283.8 991.0,282.4 996.0,281.4 C1001.0,280.4 1008.5,279.8 1014.0,279.3 C1019.5,278.8 1026.5,278.6 1029.0,278.5" stroke="#4f7ae6" stroke-width="1" fill="none"/><path d="M0.0,174.4 C2.4,175.7 9.4,180.4 14.4,182.2 C19.4,184.0 25.4,184.9 30.0,185.2 C34.6,185.5 37.0,184.0 42.0,184.0 C47.0,184.0 53.0,184.9 60.0,185.2 C67.0,185.5 78.0,185.6 84.0,185.8 C90.0,186.0 93.4,186.1 96.0,186.4 C98.6,186.7 96.6,187.3 99.5,187.6 C102.4,187.9 106.7,188.7 113.5,188.0 C120.3,187.3 133.8,183.6 140.5,183.5 C147.2,183.4 148.2,187.0 154.0,187.6 C159.8,188.2 171.3,187.1 175.6,187.0 C179.9,186.9 177.8,184.9 180.0,187.2 C182.2,189.5 186.0,198.3 189.0,200.7 C192.0,203.1 194.5,202.4 198.0,201.8 C201.5,201.2 206.0,199.9 210.0,197.0 C214.0,194.1 218.5,188.4 222.0,184.2 C225.5,179.9 228.6,174.4 231.0,171.5 C233.4,168.6 234.2,166.7 236.2,166.7 C238.2,166.7 240.9,170.5 243.0,171.5 C245.1,172.5 247.0,173.8 249.0,172.7 C251.0,171.6 252.5,168.9 255.0,164.7 C257.5,160.5 261.0,152.5 264.0,147.5 C267.0,142.5 269.9,138.1 273.0,134.7 C276.1,131.2 280.2,127.7 282.7,126.8 C285.2,125.9 286.1,128.6 288.0,129.2 C289.9,129.8 292.0,129.3 294.0,130.2 C296.0,131.1 298.3,133.6 300.0,134.7 C301.7,135.8 301.8,136.9 304.0,137.0 C306.2,137.1 309.0,137.2 313.0,135.5 C317.0,133.8 323.5,128.2 328.0,126.5 C332.5,124.8 335.0,124.5 340.0,125.0 C345.0,125.5 352.0,128.5 358.0,129.5 C364.0,130.5 371.0,129.5 376.0,131.0 C381.0,132.5 383.0,137.0 388.0,138.5 C393.0,140.0 400.0,140.5 406.0,140.0 C412.0,139.5 418.0,135.8 424.0,135.5 C430.0,135.2 437.7,138.0 442.0,138.5 C446.3,139.0 445.2,139.2 450.0,138.5 C454.8,137.8 466.2,133.2 471.0,134.0 C475.8,134.8 475.0,140.2 478.5,143.0 C482.0,145.8 487.8,147.5 492.0,150.5 C496.2,153.5 500.5,157.2 504.0,161.0 C507.5,164.8 510.0,169.8 513.0,173.0 C516.0,176.2 518.0,180.2 522.0,180.5 C526.0,180.8 531.5,175.5 537.0,174.5 C542.5,173.5 549.0,175.0 555.0,174.5 C561.0,174.0 567.0,172.5 573.0,171.5 C579.0,170.5 586.5,168.8 591.0,168.5 C595.5,168.2 597.5,167.5 600.0,170.0 C602.5,172.5 599.3,181.2 606.0,183.5 C612.7,185.8 631.3,183.9 640.0,184.0 C648.7,184.1 654.0,185.0 658.0,184.0 C662.0,183.0 661.5,176.2 664.0,178.0 C666.5,179.8 669.0,189.0 673.0,194.5 C677.0,200.0 683.2,205.8 688.0,211.0 C692.8,216.2 697.8,220.0 701.5,226.0 C705.2,232.0 706.2,242.5 710.5,247.0 C714.8,251.5 722.8,250.5 727.0,253.0 C731.2,255.5 731.5,261.0 736.0,262.0 C740.5,263.0 749.0,260.3 754.0,259.0 C759.0,257.7 762.0,254.9 766.0,254.4 C770.0,253.9 774.5,252.7 778.0,256.0 C781.5,259.3 784.0,266.5 787.0,274.0 C790.0,281.5 793.5,291.7 796.0,301.0 C798.5,310.3 800.5,323.5 802.0,330.0 C803.5,336.5 804.0,337.0 805.0,340.0 C806.0,343.0 806.8,345.9 808.0,348.0 C809.2,350.1 809.6,352.0 812.0,352.4 C814.4,352.8 819.5,351.1 822.6,350.6 C825.7,350.1 828.1,350.1 830.6,349.3 C833.1,348.5 835.2,346.9 837.7,345.7 C840.2,344.5 843.2,342.8 845.7,342.2 C848.2,341.6 850.9,342.9 852.8,342.2 C854.7,341.4 856.0,339.6 857.2,337.7 C858.4,335.8 859.0,333.6 860.0,330.6 C861.0,327.7 862.2,324.4 863.4,320.0 C864.6,315.6 865.4,307.6 867.0,304.0 C868.6,300.4 870.0,299.5 873.0,298.5 C876.0,297.5 880.5,297.1 885.0,298.0 C889.5,298.9 895.5,302.3 900.0,304.0 C904.5,305.7 907.0,307.4 912.0,308.4 C917.0,309.4 923.0,309.5 930.0,310.0 C937.0,310.5 948.0,309.9 954.0,311.4 C960.0,312.9 963.0,316.5 966.0,319.0 C969.0,321.5 969.0,325.9 972.0,326.4 C975.0,326.9 980.0,325.0 984.0,322.0 C988.0,319.0 992.0,312.3 996.0,308.4 C1000.0,304.5 1002.5,300.6 1008.0,298.5 C1013.5,296.4 1025.5,296.0 1029.0,295.5" stroke="#4f9570" stroke-width="1" fill="none"/><path d="M0,274.5 H1059" stroke="#131722" stroke-width="1" stroke-dasharray="1,2" fill="none"/><path d="M0,401.5 H1127" stroke="#e6e6e6" stroke-width="1"/><path d="M0,634.5 H1127" stroke="#e6e6e6" stroke-width="1"/><path d="M0.0,541.7 L7.9,531.7 L15.7,538.6 L31.5,545.0 L37.8,546.5 L41.0,527.6 L50.4,543.3 L53.5,527.6 L63.0,533.9 L78.7,543.3 L91.3,532.3 L100.8,546.5 L104.0,530.7 L113.4,526.0 L126.0,538.6 L138.6,544.9 L144.9,538.6 L149.6,518.1 L157.5,522.8 L170.0,538.6 L179.5,554.3 L189.0,571.7 L192.0,562.2 L207.9,570.0 L220.5,573.2 L236.2,579.5 L252.0,588.3 L255.0,549.6 L261.4,556.0 L269.3,551.2 L274.0,538.6 L280.0,537.0 L283.0,528.5 L289.4,527.6 L294.2,533.9 L300.5,537.0 L303.6,525.4 L310.0,535.4 L317.8,538.6 L327.2,543.3 L339.8,544.9 L346.0,548.7 L348.7,531.7 L354.0,543.3 L358.7,538.6 L363.5,548.0 L371.3,548.0 L380.8,557.5 L387.0,565.4 L395.0,550.6 L404.4,559.0 L407.6,541.7 L413.9,545.5 L418.6,536.0 L426.5,540.2 L431.2,541.7 L434.3,529.8 L442.2,538.6 L453.2,544.9 L461.0,537.6 L469.0,538.6 L473.7,540.8 L479.0,463.0 L487.9,480.3 L494.2,497.0 L500.5,488.8 L506.8,490.4 L512.0,485.0 L519.4,496.0 L528.8,526.0 L539.8,537.6 L543.0,524.4 L549.3,529.1 L560.0,526.0 L564.7,531.7 L569.4,529.1 L582.0,535.4 L588.3,527.6 L594.6,531.7 L600.3,493.9 L606.6,513.4 L612.0,522.8 L618.3,537.0 L623.0,535.4 L627.7,538.6 L632.4,531.7 L638.7,541.1 L643.5,537.0 L651.3,546.5 L658.6,552.8 L660.8,533.9 L667.0,537.0 L670.2,503.3 L676.5,515.0 L679.0,495.4 L687.6,513.4 L697.0,522.2 L703.3,505.5 L709.6,473.0 L714.3,489.8 L720.6,496.0 L723.8,486.6 L728.5,493.9 L731.7,492.0 L738.0,505.5 L745.8,517.2 L751.2,508.7 L758.4,515.9 L763.1,505.5 L769.4,518.1 L775.7,524.4 L782.0,508.7 L785.2,511.8 L788.3,500.8 L794.6,480.3 L803.2,469.3 L806.3,489.8 L812.0,507.0 L816.7,524.4 L823.0,531.7 L830.0,527.6 L838.9,535.4 L845.2,538.0 L851.5,541.7 L854.6,538.6 L862.5,544.9 L866.6,532.3 L875.1,540.2 L879.8,538.6 L886.8,534.8 L895.6,540.2 L899.4,529.1 L903.5,531.7 L906.6,538.6 L917.6,544.3 L924.0,550.6 L927.7,538.6 L938.1,545.5 L941.3,553.7 L952.3,557.5 L958.6,563.8 L968.0,570.0 L975.0,580.2 L981.3,540.2 L986.9,545.5 L990.0,545.5 L996.4,553.4 L1005.8,555.9 L1009.0,553.7 L1013.7,540.2 L1020.0,545.5 L1024.1,544.3 L1028.5,546.5" stroke="#ec8538" stroke-width="1" fill="none"/><path d="M0.0,546.5 L9.4,554.3 L19.0,556.0 L28.3,556.0 L37.8,557.5 L47.2,563.8 L56.7,568.5 L61.4,563.0 L72.4,563.0 L77.2,548.0 L85.0,550.6 L94.5,559.0 L98.3,527.6 L104.0,538.6 L111.8,548.0 L126.0,538.6 L132.3,537.0 L141.7,538.6 L151.2,554.3 L157.5,557.5 L163.8,546.5 L171.7,537.0 L179.5,524.4 L185.8,481.9 L192.0,500.8 L201.6,513.4 L207.9,494.5 L215.7,486.6 L222.0,497.6 L225.2,480.3 L233.0,492.9 L240.0,445.7 L245.7,467.7 L252.0,478.7 L258.3,507.0 L267.7,521.3 L280.0,538.6 L289.4,549.6 L292.6,540.2 L302.0,545.5 L305.2,548.0 L308.3,541.1 L311.5,545.5 L321.0,548.0 L339.8,551.2 L346.0,546.5 L349.3,552.1 L352.4,546.5 L357.2,552.8 L361.9,538.6 L369.8,543.3 L374.5,538.6 L385.5,505.5 L391.8,515.0 L398.0,521.3 L407.6,535.4 L412.3,533.2 L420.2,544.9 L431.2,546.5 L437.5,554.3 L440.6,543.3 L450.0,546.5 L452.6,540.2 L462.7,546.5 L473.7,549.6 L480.0,568.5 L484.7,565.4 L487.9,565.4 L491.0,544.9 L500.5,554.3 L513.0,565.4 L519.4,560.6 L522.5,562.2 L525.7,543.3 L532.0,546.5 L539.8,548.7 L547.7,555.0 L560.0,562.2 L563.8,543.3 L572.6,546.5 L585.2,548.0 L591.5,551.2 L596.2,548.0 L599.4,559.0 L603.5,562.2 L606.6,536.0 L612.0,537.0 L615.0,513.4 L621.4,525.4 L626.1,526.0 L634.0,535.4 L637.2,526.0 L643.5,530.7 L648.2,526.0 L654.5,535.4 L664.0,543.3 L668.7,551.2 L673.4,562.2 L681.3,570.0 L687.6,569.4 L692.3,572.6 L709.6,582.0 L715.0,573.2 L736.4,582.0 L742.0,565.4 L755.3,568.5 L763.1,573.2 L766.3,570.0 L775.7,570.7 L802.5,585.8 L812.0,560.6 L815.0,530.7 L821.4,538.6 L829.4,546.5 L835.7,546.5 L845.2,549.6 L848.3,541.1 L853.0,543.3 L857.8,544.9 L865.7,550.6 L872.0,544.3 L883.0,552.8 L892.4,555.0 L895.6,550.6 L901.3,555.3 L905.0,546.5 L911.3,549.6 L917.6,549.0 L920.8,543.3 L928.7,550.6 L936.5,553.7 L939.7,549.6 L942.8,531.7 L947.6,532.3 L953.9,533.9 L957.0,511.8 L961.7,508.7 L966.5,504.0 L969.6,494.5 L972.0,466.0 L980.6,500.8 L990.0,516.5 L993.2,507.7 L999.5,516.5 L1009.0,524.4 L1014.6,532.3 L1016.9,521.3 L1023.1,527.6 L1028.5,524.4" stroke="#2962ff" stroke-width="1" fill="none"/><path d="M0.0,562.0 C1.6,561.5 5.2,559.8 9.4,559.0 C13.6,558.2 20.2,557.5 25.0,557.0 C29.8,556.5 34.3,557.5 38.0,556.0 C41.7,554.5 43.8,550.9 47.0,548.0 C50.2,545.1 53.8,541.6 57.0,538.6 C60.2,535.6 63.2,531.5 66.0,529.8 C68.8,528.1 70.8,526.5 74.0,528.5 C77.2,530.5 81.6,539.5 85.0,541.7 C88.4,543.9 90.8,541.0 94.5,541.7 C98.2,542.4 101.8,543.7 107.0,545.8 C112.2,547.9 120.0,551.6 126.0,554.3 C132.0,557.0 143.0,562.2 143.0,562.2 C143.0,562.2 155.0,549.0 160.6,548.0 C166.2,547.0 176.4,556.0 176.4,556.0 C176.4,556.0 184.3,534.2 189.0,526.0 C193.7,517.8 199.4,514.9 204.7,507.0 C209.9,499.1 215.3,487.6 220.5,478.7 C225.7,469.8 230.8,462.8 236.0,453.5 C241.2,444.2 252.0,422.7 252.0,422.7 C252.0,422.7 261.3,434.0 266.0,444.0 C270.7,454.0 276.1,473.6 280.0,482.5 C283.9,491.4 285.7,491.9 289.4,497.6 C293.1,503.3 297.8,511.0 302.0,516.5 C306.2,522.0 310.4,526.5 314.6,530.7 C318.8,534.9 322.0,537.5 327.2,541.7 C332.4,545.9 340.8,553.0 346.0,555.9 C351.2,558.8 354.5,557.7 358.7,559.0 C362.9,560.3 368.1,563.3 371.3,563.8 C374.5,564.3 377.6,562.2 377.6,562.2 C377.6,562.2 386.1,547.0 388.7,543.3 C391.3,539.6 391.0,541.5 393.4,540.2 C395.8,538.9 399.6,534.9 402.8,535.4 C406.0,535.9 407.6,539.9 412.3,543.3 C417.0,546.7 426.5,554.1 431.2,555.9 C435.9,557.7 435.9,552.7 440.6,554.3 C445.3,555.9 454.3,563.3 459.5,565.4 C464.7,567.5 472.0,567.0 472.0,567.0 C472.0,567.0 474.0,564.1 476.9,557.5 C479.8,550.9 485.5,533.9 489.4,527.6 C493.3,521.3 496.6,523.9 500.5,519.7 C504.4,515.5 509.3,506.7 513.0,502.4 C516.7,498.1 522.5,493.9 522.5,493.9 C522.5,493.9 529.1,500.3 532.0,504.0 C534.9,507.7 536.6,513.5 539.8,515.9 C542.9,518.2 547.5,518.0 550.9,518.1 C554.3,518.2 556.4,514.9 560.0,516.5 C563.6,518.1 568.4,524.2 572.6,527.6 C576.8,531.0 581.3,535.2 585.2,537.0 C589.1,538.8 593.1,539.9 596.2,538.6 C599.3,537.3 600.6,529.5 604.0,529.0 C607.4,528.5 612.5,532.2 616.7,535.4 C620.9,538.6 624.6,544.6 629.3,548.0 C634.0,551.4 640.8,554.7 645.0,556.0 C649.2,557.3 650.8,555.7 654.5,556.0 C658.2,556.3 667.0,558.0 667.0,558.0 C667.0,558.0 673.3,549.7 676.5,543.3 C679.7,536.9 682.3,527.3 686.0,519.7 C689.7,512.1 694.4,506.0 698.6,497.6 C702.8,489.2 707.0,476.2 711.2,469.3 C715.4,462.4 719.6,460.7 723.8,456.0 C728.0,451.3 732.2,442.6 736.4,441.0 C740.6,439.4 744.8,445.5 749.0,446.6 C753.2,447.8 756.9,447.4 761.6,447.9 C766.3,448.4 772.6,450.9 777.3,449.8 C782.0,448.7 785.3,445.5 790.0,441.0 C794.7,436.5 802.0,425.1 805.7,422.7 C809.4,420.3 809.4,421.1 812.0,426.8 C814.6,432.5 818.2,448.1 821.4,456.7 C824.5,465.3 827.8,472.1 830.9,478.7 C834.0,485.2 837.6,491.5 840.0,496.0 C842.4,500.5 843.3,502.1 845.2,505.5 C847.1,508.9 848.6,511.8 851.5,516.5 C854.4,521.2 858.3,529.1 862.5,533.9 C866.7,538.7 871.5,543.2 876.7,545.5 C882.0,547.8 889.8,547.2 894.0,547.4 C898.2,547.6 898.5,545.4 901.9,546.5 C905.3,547.6 910.8,552.2 914.5,554.3 C918.2,556.4 920.1,557.6 924.0,559.0 C927.9,560.4 938.1,562.8 938.1,562.8 C938.1,562.8 943.4,559.0 946.0,557.5 C948.6,556.0 950.2,559.0 953.9,553.7 C957.6,548.5 964.1,534.5 968.0,526.0 C971.9,517.5 973.8,505.3 977.5,502.4 C981.2,499.5 985.3,507.4 990.0,508.7 C994.7,510.0 1001.6,508.4 1005.8,510.2 C1010.0,512.0 1011.6,516.8 1015.3,519.7 C1019.0,522.6 1025.8,526.3 1027.9,527.6" stroke="#e0507a" stroke-width="1.1" fill="none" stroke-linejoin="round"/></svg>
<div style="position:absolute;left:0;top:0;width:696px;height:25px;background:rgba(255,255,255,0.6)"></div><div style="position:absolute;left:0;top:25px;width:217px;height:41px;background:rgba(255,255,255,0.6)"></div><div style="position:absolute;left:0;top:66px;width:309px;height:25px;background:rgba(255,255,255,0.6)"></div><div style="position:absolute;left:6.1px;top:4px;width:17.8px;height:17.8px;border-radius:50%;background:#131313"></div><svg style="position:absolute;left:6px;top:4px" width="18" height="18"><path d="M4.3,4.2 Q7.2,6.7 9,8.9 Q10.8,6.7 13.7,4.2 M4.3,13.6 Q7.2,11.1 9,8.9 Q10.8,11.1 13.7,13.6" fill="none" stroke="#e8e8e8" stroke-width="1.5" stroke-linecap="round"/></svg><div class="t" style="left:28.20px;top:4.02px;font-size:16px;color:#131722;font-weight:400;letter-spacing:-0.068px;transform:scaleX(0.9907);transform-origin:0 0;">XRP / U.S. Dollar · 4h · Bitstamp</div><div style="position:absolute;left:264px;top:4.5px;width:18px;height:18px;border-radius:50%;background:rgba(80,150,120,0.2)"></div><div style="position:absolute;left:269px;top:9.5px;width:8px;height:8px;border-radius:50%;background:#4f9a7c"></div><div class="t" style="left:289.36px;top:5.19px;font-size:13px;color:#131722;font-weight:400;letter-spacing:0.000px;transform:scaleX(1.0618);transform-origin:0 0;">O</div><div class="t" style="left:300.92px;top:5.19px;font-size:13px;color:#4f9a7c;font-weight:400;letter-spacing:0.556px;transform:scaleX(1.0793);transform-origin:0 0;">1.48652</div><div class="t" style="left:358.70px;top:5.19px;font-size:13px;color:#131722;font-weight:400;letter-spacing:0.000px;transform:scaleX(1.1806);transform-origin:0 0;">H</div><div class="t" style="left:370.72px;top:5.19px;font-size:13px;color:#4f9a7c;font-weight:400;letter-spacing:0.556px;transform:scaleX(1.0791);transform-origin:0 0;">1.49295</div><div class="t" style="left:429.26px;top:5.19px;font-size:13px;color:#131722;font-weight:400;letter-spacing:0.000px;transform:scaleX(1.1316);transform-origin:0 0;">L</div><div class="t" style="left:439.43px;top:5.19px;font-size:13px;color:#4f9a7c;font-weight:400;letter-spacing:0.527px;transform:scaleX(1.0747);transform-origin:0 0;">1.48516</div><div class="t" style="left:498.82px;top:5.19px;font-size:13px;color:#131722;font-weight:400;letter-spacing:0.000px;transform:scaleX(1.1098);transform-origin:0 0;">C</div><div class="t" style="left:509.32px;top:5.19px;font-size:13px;color:#4f9a7c;font-weight:400;letter-spacing:0.585px;transform:scaleX(1.0835);transform-origin:0 0;">1.48790</div><div class="t" style="left:568.87px;top:5.19px;font-size:13px;color:#4f9a7c;font-weight:400;letter-spacing:0.372px;transform:scaleX(1.0573);transform-origin:0 0;">+0.00185 (+0.12%)</div><div style="position:absolute;left:5px;top:29px;width:73px;height:32px;border:1px solid #e8605a;border-radius:5px;background:#fff"></div><div class="t" style="left:16.16px;top:30.68px;font-size:13px;color:#e0524d;font-weight:700;letter-spacing:0.403px;transform:scaleX(1.0556);transform-origin:0 0;">1.48805</div><div class="t" style="left:27.90px;top:46.20px;font-size:11px;color:#e0524d;font-weight:400;letter-spacing:0.083px;transform:scaleX(1.0096);transform-origin:0 0;">SELL</div><div class="t" style="left:87.59px;top:40.49px;font-size:11px;color:#131722;font-weight:400;letter-spacing:0.139px;transform:scaleX(1.0219);transform-origin:0 0;">0.00001</div><div style="position:absolute;left:139px;top:29px;width:73px;height:32px;border:1px solid #3b78f0;border-radius:5px;background:#fff"></div><div class="t" style="left:150.15px;top:30.68px;font-size:13px;color:#3b78f0;font-weight:700;letter-spacing:0.410px;transform:scaleX(1.0568);transform-origin:0 0;">1.48806</div><div class="t" style="left:164.05px;top:46.20px;font-size:11px;color:#3b78f0;font-weight:400;letter-spacing:0.591px;transform:scaleX(1.0581);transform-origin:0 0;">BUY</div><div class="t" style="left:5.14px;top:71.56px;font-size:13.5px;color:#131722;font-weight:400;letter-spacing:0.082px;transform:scaleX(1.0116);transform-origin:0 0;">BB <span style="color:#6a6d78">20 SMA close 2</span></div><div class="t" style="left:131.63px;top:71.48px;font-size:13px;color:#3d72e8;font-weight:400;letter-spacing:0.506px;transform:scaleX(1.0714);transform-origin:0 0;">1.48868</div><div class="t" style="left:191.53px;top:71.48px;font-size:13px;color:#e05a58;font-weight:400;letter-spacing:0.484px;transform:scaleX(1.0681);transform-origin:0 0;">1.57685</div><div class="t" style="left:251.73px;top:71.48px;font-size:13px;color:#4f9a7c;font-weight:400;letter-spacing:0.491px;transform:scaleX(1.0694);transform-origin:0 0;">1.40052</div><div style="position:absolute;left:5px;top:95px;width:27px;height:18px;border:1px solid #e0e3eb;border-radius:4px;background:#fff"></div><svg style="position:absolute;left:5px;top:95px" width="29" height="20"><path d="M10.5,12 L14.5,8 L18.5,12" stroke="#131722" stroke-width="1.5" fill="none"/></svg><div style="position:absolute;left:1063px;top:1px;width:62px;height:24px;border:1px solid #e0e3eb;border-radius:5px;background:#fff"></div><div class="t" style="left:1066.74px;top:5.59px;font-size:13px;color:#131722;font-weight:400;letter-spacing:-0.493px;transform:scaleX(0.9633);transform-origin:0 0;">USD</div><svg style="position:absolute;left:1114px;top:10px" width="10" height="8"><path d="M2.5,3 L5.5,6 L8.5,3" stroke="#131722" stroke-width="1.4" fill="none"/></svg><div class="t" style="left:1068.17px;top:33.61px;font-size:12.5px;color:#131722;font-weight:400;letter-spacing:0.402px;transform:scaleX(1.0578);transform-origin:0 0;">2.40000</div><div class="t" style="left:1068.17px;top:84.51px;font-size:12.5px;color:#131722;font-weight:400;letter-spacing:0.402px;transform:scaleX(1.0578);transform-origin:0 0;">2.20000</div><div class="t" style="left:1068.17px;top:135.41px;font-size:12.5px;color:#131722;font-weight:400;letter-spacing:0.402px;transform:scaleX(1.0578);transform-origin:0 0;">2.00000</div><div class="t" style="left:1067.84px;top:186.31px;font-size:12.5px;color:#131722;font-weight:400;letter-spacing:0.424px;transform:scaleX(1.0616);transform-origin:0 0;">1.80000</div><div class="t" style="left:1067.84px;top:339.01px;font-size:12.5px;color:#131722;font-weight:400;letter-spacing:0.424px;transform:scaleX(1.0616);transform-origin:0 0;">1.20000</div><div class="t" style="left:1067.84px;top:389.91px;font-size:12.5px;color:#131722;font-weight:400;letter-spacing:0.424px;transform:scaleX(1.0616);transform-origin:0 0;">1.00000</div><div class="t" style="left:871.04px;top:30.94px;font-size:12px;color:#e99c3e;font-weight:400;letter-spacing:0.397px;transform:scaleX(1.0711);transform-origin:0 0;">1 (2.41849)</div><div class="t" style="left:871.46px;top:100.64px;font-size:12px;color:#e99c3e;font-weight:400;letter-spacing:0.394px;transform:scaleX(1.0707);transform-origin:0 0;">0.786 (2.14155)</div><div class="t" style="left:871.46px;top:156.74px;font-size:12px;color:#e99c3e;font-weight:400;letter-spacing:0.394px;transform:scaleX(1.0707);transform-origin:0 0;">0.618 (1.92414)</div><div class="t" style="left:871.46px;top:195.14px;font-size:12px;color:#e99c3e;font-weight:400;letter-spacing:0.418px;transform:scaleX(1.0769);transform-origin:0 0;">0.5 (1.77144)</div><div class="t" style="left:871.46px;top:233.94px;font-size:12px;color:#e99c3e;font-weight:400;letter-spacing:0.394px;transform:scaleX(1.0707);transform-origin:0 0;">0.382 (1.61874)</div><div class="t" style="left:871.46px;top:282.14px;font-size:12px;color:#e99c3e;font-weight:400;letter-spacing:0.394px;transform:scaleX(1.0707);transform-origin:0 0;">0.236 (1.42980)</div><div class="t" style="left:871.47px;top:360.14px;font-size:12px;color:#e99c3e;font-weight:400;letter-spacing:0.379px;transform:scaleX(1.0673);transform-origin:0 0;">0 (1.12439)</div><div style="position:absolute;left:1060px;top:232.3px;width:63.7px;height:16.3px;background:#e0574c;border-radius:2px"></div><div class="t" style="left:1068.56px;top:233.36px;font-size:12.5px;color:#fff;font-weight:400;letter-spacing:0.334px;transform:scaleX(1.0481);transform-origin:0 0;">1.57685</div><div style="position:absolute;left:1060px;top:249.2px;width:63.7px;height:16px;background:#2c70f0;border-radius:2px"></div><div class="t" style="left:1068.56px;top:250.11px;font-size:12.5px;color:#fff;font-weight:400;letter-spacing:0.334px;transform:scaleX(1.0481);transform-origin:0 0;">1.48868</div><div style="position:absolute;left:1060px;top:266.2px;width:67px;height:30.6px;background:#131313;border-radius:2px 0 0 2px"></div><div class="t" style="left:1068.56px;top:266.81px;font-size:12.5px;color:#fff;font-weight:400;letter-spacing:0.326px;transform:scaleX(1.0468);transform-origin:0 0;">1.48790</div><div class="t" style="left:1067.97px;top:280.81px;font-size:12.5px;color:#e8e8e8;font-weight:400;letter-spacing:0.352px;transform:scaleX(1.0544);transform-origin:0 0;">02:59:24</div><div style="position:absolute;left:1060px;top:297.5px;width:63.7px;height:16.2px;background:#5a9a80;border-radius:2px"></div><div class="t" style="left:1068.56px;top:298.51px;font-size:12.5px;color:#fff;font-weight:400;letter-spacing:0.341px;transform:scaleX(1.0493);transform-origin:0 0;">1.40052</div><div style="position:absolute;left:1002px;top:266.2px;width:57px;height:16.5px;background:#131313;border-radius:3px 0 0 3px"></div><div class="t" style="left:1006.20px;top:267.24px;font-size:12px;color:#fff;font-weight:400;letter-spacing:-0.111px;transform:scaleX(0.9888);transform-origin:0 0;">XRPUSD</div><svg style="position:absolute;left:1005px;top:370.7px" width="50" height="30"><circle cx="25" cy="17.5" r="9.6" fill="none" stroke="#7b4fd0" stroke-width="1.3"/><circle cx="30" cy="17.8" r="9.4" fill="#fff" stroke="#e0524d" stroke-width="1.2"/><circle cx="28.6" cy="17.8" r="9.4" fill="#fff" stroke="#e0524d" stroke-width="1.2"/><circle cx="27.4" cy="17.8" r="9.4" fill="#fff" stroke="#e0524d" stroke-width="1.4"/><clipPath id="fc"><circle cx="27.4" cy="17.8" r="7.6"/></clipPath><g clip-path="url(#fc)"><rect x="18" y="9" width="20" height="18" fill="#fff"/><rect x="29" y="10.5" width="8" height="2.4" fill="#e0524d"/><rect x="29" y="16" width="8" height="3.4" fill="#e0524d"/><rect x="18" y="22" width="20" height="3.4" fill="#e0524d"/><rect x="18.5" y="9.5" width="11" height="10.3" fill="#2f86e0"/><path d="M21,12 h6 M21,14.8 h6 M21,17.6 h6" stroke="#cfe3fa" stroke-width="0.8" stroke-dasharray="1,0.8"/></g><path d="M13.7,17.8 Q14.3,21.2 17.5,21.8 Q14.3,22.4 13.7,25.8 Q13.1,22.4 9.9,21.8 Q13.1,21.2 13.7,17.8 Z" fill="#6a5cf5"/></svg><div class="t" style="left:5.68px;top:410.56px;font-size:13.5px;color:#131722;font-weight:400;letter-spacing:0.123px;transform:scaleX(1.0164);transform-origin:0 0;">DMI <span style="color:#6a6d78">14 14</span></div><div class="t" style="left:78.05px;top:411.19px;font-size:13px;color:#e0506a;font-weight:400;letter-spacing:0.549px;transform:scaleX(1.0773);transform-origin:0 0;">25.3528</div><div class="t" style="left:137.95px;top:411.19px;font-size:13px;color:#3d72e8;font-weight:400;letter-spacing:0.542px;transform:scaleX(1.0763);transform-origin:0 0;">26.5476</div><div class="t" style="left:197.92px;top:411.19px;font-size:13px;color:#e8833a;font-weight:400;letter-spacing:0.577px;transform:scaleX(1.0824);transform-origin:0 0;">18.2536</div><div class="t" style="left:1067.77px;top:428.81px;font-size:12.5px;color:#131722;font-weight:400;letter-spacing:0.402px;transform:scaleX(1.0578);transform-origin:0 0;">60.0000</div><div class="t" style="left:1068.08px;top:481.61px;font-size:12.5px;color:#131722;font-weight:400;letter-spacing:0.379px;transform:scaleX(1.0541);transform-origin:0 0;">40.0000</div><div class="t" style="left:1067.77px;top:534.51px;font-size:12.5px;color:#131722;font-weight:400;letter-spacing:0.402px;transform:scaleX(1.0578);transform-origin:0 0;">20.0000</div><div class="t" style="left:1067.87px;top:587.11px;font-size:12.5px;color:#131722;font-weight:400;letter-spacing:0.433px;transform:scaleX(1.0617);transform-origin:0 0;">0.0000</div><div style="position:absolute;left:1060px;top:502.8px;width:63.7px;height:17.2px;background:#2c70f0;border-radius:2px"></div><div class="t" style="left:1068.17px;top:504.91px;font-size:12.5px;color:#fff;font-weight:400;letter-spacing:0.364px;transform:scaleX(1.0523);transform-origin:0 0;">26.5476</div><div style="position:absolute;left:1060px;top:520.5px;width:63.7px;height:16.5px;background:#e05a68;border-radius:2px"></div><div class="t" style="left:1068.17px;top:522.26px;font-size:12.5px;color:#fff;font-weight:400;letter-spacing:0.364px;transform:scaleX(1.0523);transform-origin:0 0;">25.3528</div><div style="position:absolute;left:1060px;top:539px;width:63.7px;height:17px;background:#e8793a;border-radius:2px"></div><div class="t" style="left:1067.85px;top:541.01px;font-size:12.5px;color:#fff;font-weight:400;letter-spacing:0.387px;transform:scaleX(1.0561);transform-origin:0 0;">18.2536</div><svg style="position:absolute;left:8px;top:576px" width="34" height="18"><path d="M0.9,1.2 H12.9 V16 H6.8 V6.8 H0.9 Z" fill="#131313"/><circle cx="18" cy="4" r="2.8" fill="#131313"/><path d="M23.9,1.2 H30.9 L25.1,16 H18 Z" fill="#131313"/></svg><div class="t" style="left:45.70px;top:571.97px;font-size:20.5px;color:#131313;font-weight:700;letter-spacing:0.035px;transform:scaleX(1.0029);transform-origin:0 0;">TradingView</div><div class="t" style="left:0.42px;top:613.91px;font-size:12.5px;color:#131722;font-weight:400;letter-spacing:0.440px;transform:scaleX(1.0350);transform-origin:0 0;">24</div><div class="t" style="left:54.58px;top:613.91px;font-size:12.5px;color:#131722;font-weight:400;letter-spacing:0.429px;transform:scaleX(1.0350);transform-origin:0 0;">27</div><div class="t" style="left:137.74px;top:613.91px;font-size:12.5px;color:#131722;font-weight:700;letter-spacing:0.304px;transform:scaleX(1.0350);transform-origin:0 0;">2026</div><div class="t" style="left:203.92px;top:613.91px;font-size:12.5px;color:#131722;font-weight:400;letter-spacing:0.000px;transform:scaleX(1.0350);transform-origin:0 0;">4</div><div class="t" style="left:258.33px;top:613.91px;font-size:12.5px;color:#131722;font-weight:400;letter-spacing:0.000px;transform:scaleX(1.0350);transform-origin:0 0;">7</div><div class="t" style="left:308.63px;top:613.91px;font-size:12.5px;color:#131722;font-weight:400;letter-spacing:0.426px;transform:scaleX(1.0350);transform-origin:0 0;">10</div><div class="t" style="left:363.18px;top:613.91px;font-size:12.5px;color:#131722;font-weight:400;letter-spacing:0.423px;transform:scaleX(1.0350);transform-origin:0 0;">13</div><div class="t" style="left:417.58px;top:613.91px;font-size:12.5px;color:#131722;font-weight:400;letter-spacing:0.423px;transform:scaleX(1.0350);transform-origin:0 0;">16</div><div class="t" style="left:472.08px;top:613.91px;font-size:12.5px;color:#131722;font-weight:400;letter-spacing:0.423px;transform:scaleX(1.0350);transform-origin:0 0;">19</div><div class="t" style="left:526.68px;top:613.91px;font-size:12.5px;color:#131722;font-weight:400;letter-spacing:0.429px;transform:scaleX(1.0350);transform-origin:0 0;">22</div><div class="t" style="left:581.13px;top:613.91px;font-size:12.5px;color:#131722;font-weight:400;letter-spacing:0.433px;transform:scaleX(1.0350);transform-origin:0 0;">25</div><div class="t" style="left:635.53px;top:613.91px;font-size:12.5px;color:#131722;font-weight:400;letter-spacing:0.433px;transform:scaleX(1.0350);transform-origin:0 0;">28</div><div class="t" style="left:703.26px;top:613.91px;font-size:12.5px;color:#131722;font-weight:400;letter-spacing:0.338px;transform:scaleX(1.0350);transform-origin:0 0;">Feb</div><div class="t" style="left:765.32px;top:613.91px;font-size:12.5px;color:#131722;font-weight:400;letter-spacing:0.000px;transform:scaleX(1.0350);transform-origin:0 0;">4</div><div class="t" style="left:819.63px;top:613.91px;font-size:12.5px;color:#131722;font-weight:400;letter-spacing:0.000px;transform:scaleX(1.0350);transform-origin:0 0;">7</div><div class="t" style="left:870.63px;top:613.91px;font-size:12.5px;color:#131722;font-weight:400;letter-spacing:0.426px;transform:scaleX(1.0350);transform-origin:0 0;">10</div><div class="t" style="left:925.58px;top:613.91px;font-size:12.5px;color:#131722;font-weight:400;letter-spacing:0.423px;transform:scaleX(1.0350);transform-origin:0 0;">13</div><div class="t" style="left:979.38px;top:613.91px;font-size:12.5px;color:#131722;font-weight:400;letter-spacing:0.423px;transform:scaleX(1.0350);transform-origin:0 0;">16</div><div class="t" style="left:1034.18px;top:613.91px;font-size:12.5px;color:#131722;font-weight:400;letter-spacing:0.423px;transform:scaleX(1.0350);transform-origin:0 0;">19</div><svg style="position:absolute;left:1086px;top:612px" width="18" height="18"><path d="M5.4,2.7 H13.6 L16.8,8.3 L13.6,13.9 H5.4 L2.2,8.3 Z" fill="none" stroke="#131722" stroke-width="1.2" stroke-linejoin="round"/><circle cx="9.5" cy="8.3" r="2.1" fill="none" stroke="#131722" stroke-width="1.1"/></svg><div class="t" style="left:11.37px;top:646.51px;font-size:13.7px;color:#131722;font-weight:400;letter-spacing:0.531px;transform:scaleX(1.0348);transform-origin:0 0;">1D</div><div class="t" style="left:41.97px;top:646.51px;font-size:13.7px;color:#131722;font-weight:400;letter-spacing:0.717px;transform:scaleX(1.0463);transform-origin:0 0;">5D</div><div class="t" style="left:73.14px;top:646.51px;font-size:13.7px;color:#131722;font-weight:400;letter-spacing:0.989px;transform:scaleX(1.0621);transform-origin:0 0;">1M</div><div class="t" style="left:105.96px;top:646.51px;font-size:13.7px;color:#131722;font-weight:400;letter-spacing:1.166px;transform:scaleX(1.0718);transform-origin:0 0;">3M</div><div class="t" style="left:138.55px;top:646.51px;font-size:13.7px;color:#131722;font-weight:400;letter-spacing:1.252px;transform:scaleX(1.0785);transform-origin:0 0;">6M</div><div class="t" style="left:172.71px;top:646.51px;font-size:13.7px;color:#131722;font-weight:400;letter-spacing:-0.307px;transform:scaleX(0.9773);transform-origin:0 0;">YTD</div><div class="t" style="left:211.16px;top:646.51px;font-size:13.7px;color:#131722;font-weight:400;letter-spacing:0.624px;transform:scaleX(1.0422);transform-origin:0 0;">1Y</div><div class="t" style="left:241.78px;top:646.51px;font-size:13.7px;color:#131722;font-weight:400;letter-spacing:0.390px;transform:scaleX(1.0253);transform-origin:0 0;">5Y</div><div class="t" style="left:271.50px;top:646.51px;font-size:13.7px;color:#131722;font-weight:400;letter-spacing:0.401px;transform:scaleX(1.0594);transform-origin:0 0;">All</div><div style="position:absolute;left:298px;top:643px;width:1px;height:22px;background:#e0e3eb"></div><svg style="position:absolute;left:310px;top:642px" width="24" height="24"><path d="M3.4,10.4 V6.6 Q3.4,4.4 5.6,4.4 H18.2 Q20.4,4.4 20.4,6.6 V16.9 Q20.4,19.1 18.2,19.1 H12.2 M3.4,8.4 H20.4 M8.4,2.2 V5.8 M15.5,2.2 V5.8 M2.2,16.4 H9.7 M6.2,13.1 L9.7,16.4 L6.2,19.7" fill="none" stroke="#131722" stroke-width="1.1"/></svg><div class="t" style="left:1027.08px;top:645.73px;font-size:14px;color:#131722;font-weight:400;letter-spacing:0.285px;transform:scaleX(1.0377);transform-origin:0 0;">09:00:36 UTC</div>
</body></html>
